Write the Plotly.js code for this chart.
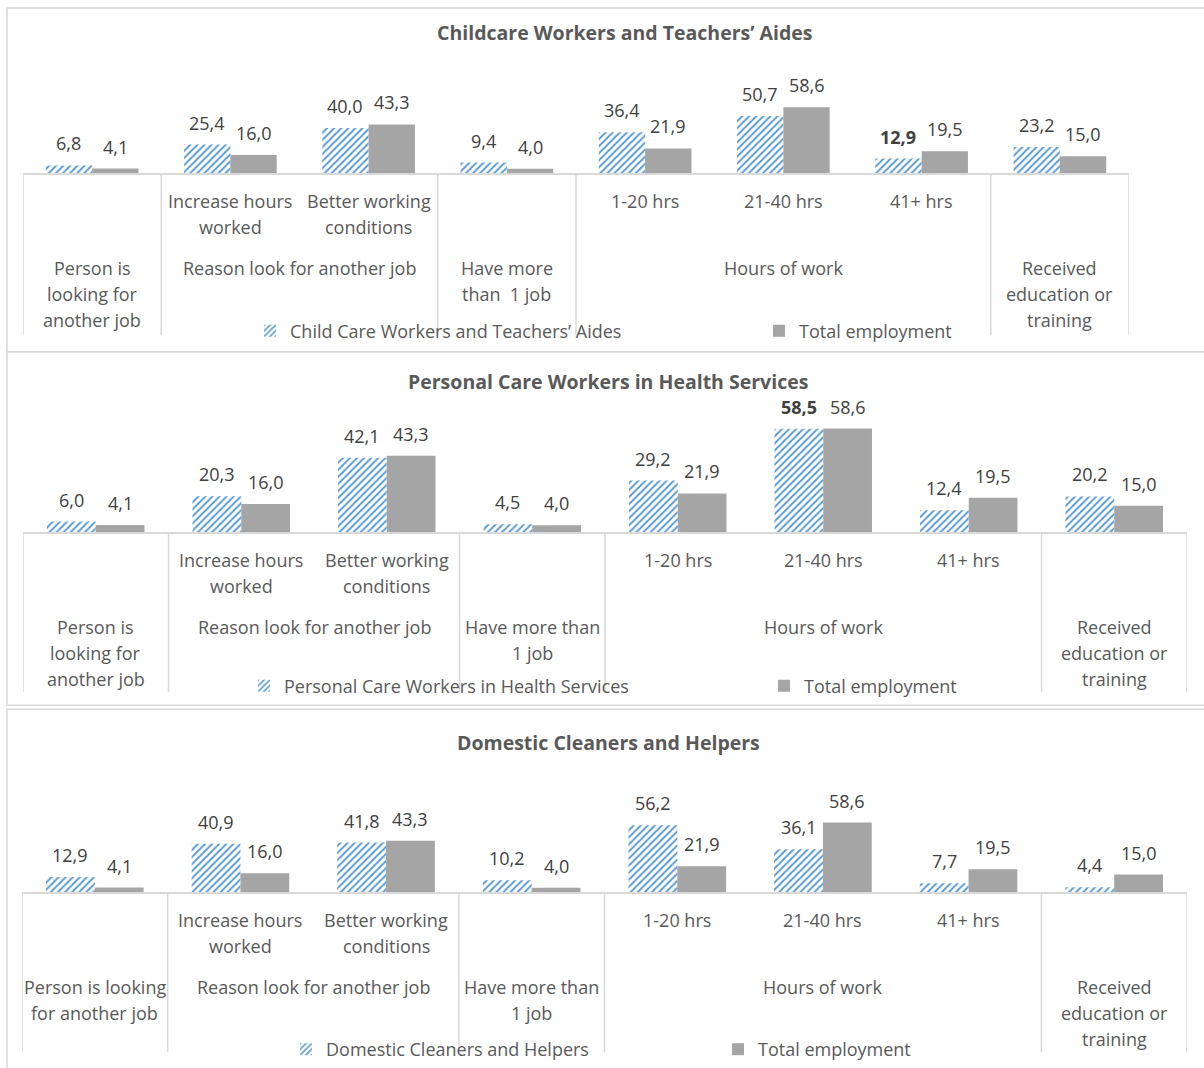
<!DOCTYPE html>
<html>
<head>
<meta charset="utf-8">
<script src="https://cdn.plot.ly/plotly-3.0.1.min.js"></script>
<style>
  html, body { margin: 0; padding: 0; background: #ffffff; }
  #chart { width: 1204px; height: 1068px; }
</style>
</head>
<body>
<div id="chart"></div>
<script>
// ---------------- DATA ----------------
const categories = ["Person is looking for another job", "Increase hours worked", "Better working conditions",
  "Have more than 1 job", "1-20 hrs", "21-40 hrs", "41+ hrs", "Received education or training"];
const subLabels = ["", "Increase hours<br>worked", "Better working<br>conditions", "", "1-20 hrs", "21-40 hrs", "41+ hrs", ""];
const groupSpans = [[0, 0], [1, 2], [3, 3], [4, 6], [7, 7]];
const groupLabels1 = ["Person is<br>looking for<br>another job", "Reason look for another job", "Have more<br>than\u00a0 1 job", "Hours of work", "Received<br>education or<br>training"];
const groupLabels2 = ["Person is<br>looking for<br>another job", "Reason look for another job", "Have more than<br>1 job", "Hours of work", "Received<br>education or<br>training"];
const groupLabels3 = ["Person is looking<br>for another job", "Reason look for another job", "Have more than<br>1 job", "Hours of work", "Received<br>education or<br>training"];
const panelTitles = ["Childcare Workers and Teachers\u2019 Aides", "Personal Care Workers in Health Services", "Domestic Cleaners and Helpers"];
const seriesNames = ["Child Care Workers and Teachers\u2019 Aides", "Personal Care Workers in Health Services", "Domestic Cleaners and Helpers"];
const totalName = "Total employment";
const childcare = [6.8, 25.4, 40.0, 9.4, 36.4, 50.7, 12.9, 23.2];
const personalCare = [6.0, 20.3, 42.1, 4.5, 29.2, 58.5, 12.4, 20.2];
const domestic = [12.9, 40.9, 41.8, 10.2, 56.2, 36.1, 7.7, 4.4];
const totalEmployment = [4.1, 16.0, 43.3, 4.0, 21.9, 58.6, 19.5, 15.0];
const boldLabels = [[6], [5], []]; // indices of occupation labels shown in bold

// ---------------- LAYOUT HELPERS ----------------
const W = 1204, H = 1068;
const px = v => v / W;
const py = v => 1 - v / H;
const BARGAP = 0.33;
const YMAX = 65;
const FONT = "'Open Sans', Lato, sans-serif";
const FS = 18;
const AXCOL = "#595959", LBLCOL = "#404040", LINECOL = "#d9d9d9";
const BLUE = "#5b9bd5", GRAY = "#a5a5a5";

const panels = [
  { occ: childcare, groups: groupLabels1, x0: 23, x1: 1129, base: 173.3, scale: 1.127, titleX: 625, titleY: 33,
    leg1: 250, leg2: 759, legY: 331, divLen: 162 },
  { occ: personalCare, groups: groupLabels2, x0: 23, x1: 1187, base: 532.7, scale: 1.77, titleX: 608, titleY: 382,
    leg1: 244, leg2: 764, legY: 686, divLen: 160 },
  { occ: domestic, groups: groupLabels3, x0: 22, x1: 1187, base: 893.3, scale: 1.195, titleX: 608, titleY: 743,
    leg1: 286, leg2: 718, legY: 1050, divLen: 160 }
];

const traces = [];
const annotations = [];
const shapes = [];
const layout = {
  width: W, height: H,
  margin: { l: 0, r: 0, t: 0, b: 0 },
  paper_bgcolor: "#ffffff", plot_bgcolor: "rgba(0,0,0,0)",
  barmode: "group", bargap: BARGAP, bargroupgap: 0,
  separators: ",.",
  font: { family: FONT, size: FS, color: AXCOL },
  showlegend: true
};

// panel borders
[[7, 8, 1215, 352], [7, 352, 1215, 706], [7, 710, 1215, 1080]].forEach(b => {
  shapes.push({ type: "rect", xref: "paper", yref: "paper", x0: px(b[0]), x1: px(b[2]), y0: py(b[1]), y1: py(b[3]),
    line: { color: LINECOL, width: 1.5 }, fillcolor: "rgba(0,0,0,0)", layer: "below" });
});

panels.forEach((p, k) => {
  const n = k === 0 ? "" : String(k + 1);
  const xa = "x" + n, ya = "y" + n;
  const topPx = p.base - YMAX * p.scale;
  layout["xaxis" + n] = {
    domain: [px(p.x0), px(p.x1)], anchor: ya, type: "category", range: [-0.5, categories.length - 0.5],
    showticklabels: false, ticks: "", showgrid: false, zeroline: false,
    showline: true, linecolor: LINECOL, linewidth: 1.5, fixedrange: true
  };
  layout["yaxis" + n] = {
    domain: [py(p.base), py(topPx)], anchor: xa, range: [0, YMAX], visible: false, fixedrange: true
  };
  const legA = "legend" + (2 * k === 0 ? "" : String(2 * k + 1));
  const legB = "legend" + String(2 * k + 2);
  const legStyle = { orientation: "h", xanchor: "left", yanchor: "middle", bgcolor: "rgba(0,0,0,0)", borderwidth: 0,
    font: { family: FONT, size: FS, color: AXCOL }, itemwidth: 30, tracegroupgap: 0 };
  layout[legA] = Object.assign({}, legStyle, { x: px(p.leg1), y: py(p.legY) });
  layout[legB] = Object.assign({}, legStyle, { x: px(p.leg2), y: py(p.legY) });

  traces.push({
    type: "bar", x: categories, y: p.occ, name: seriesNames[k], xaxis: xa, yaxis: ya, legend: legA,
    marker: { color: BLUE, line: { width: 0 }, pattern: { shape: "/", bgcolor: "#ffffff", fgcolor: BLUE, size: 5, solidity: 0.4 } },
    hoverinfo: "skip"
  });
  traces.push({
    type: "bar", x: categories, y: totalEmployment, name: totalName, xaxis: xa, yaxis: ya, legend: legB,
    marker: { color: GRAY, line: { width: 0 } }, hoverinfo: "skip"
  });

  // data labels
  const off = (1 - BARGAP) / 4;
  const fmt = v => v.toFixed(1).replace(".", ",");
  p.occ.forEach((v, i) => {
    const bold = boldLabels[k].indexOf(i) >= 0;
    annotations.push({ xref: xa, yref: ya, x: i - off, y: v, yshift: 22, yanchor: "middle", showarrow: false, borderpad: 0,
      text: bold ? "<b>" + fmt(v) + "</b>" : fmt(v), font: { family: FONT, size: FS, color: LBLCOL } });
  });
  totalEmployment.forEach((v, i) => {
    annotations.push({ xref: xa, yref: ya, x: i + off, y: v, yshift: 22, yanchor: "middle", showarrow: false, borderpad: 0,
      text: fmt(v), font: { family: FONT, size: FS, color: LBLCOL } });
  });

  // inner category labels (row 1)
  subLabels.forEach((s, i) => {
    if (!s) return;
    s.split("<br>").forEach((line, j) => {
      annotations.push({ xref: xa, yref: "paper", x: i, y: py(p.base + 28 + 26 * j), yanchor: "middle", showarrow: false,
        borderpad: 0, text: line, font: { family: FONT, size: FS, color: AXCOL } });
    });
  });
  // group labels (row 2)
  groupSpans.forEach((sp, g) => {
    p.groups[g].split("<br>").forEach((line, j) => {
      annotations.push({ xref: xa, yref: "paper", x: (sp[0] + sp[1]) / 2, y: py(p.base + 95 + 26 * j), yanchor: "middle",
        showarrow: false, borderpad: 0, text: line, font: { family: FONT, size: FS, color: AXCOL } });
    });
  });
  // group dividers
  const bounds = groupSpans.map(sp => sp[0] - 0.5).concat([groupSpans[groupSpans.length - 1][1] + 0.5]);
  bounds.forEach(b => {
    shapes.push({ type: "line", xref: xa, yref: "paper", x0: b, x1: b, y0: py(p.base), y1: py(p.base + p.divLen),
      line: { color: LINECOL, width: 1.5 }, layer: "below" });
  });
  // panel title
  annotations.push({ xref: "paper", yref: "paper", x: px(p.titleX), y: py(p.titleY), xanchor: "center", yanchor: "middle",
    showarrow: false, borderpad: 0, text: "<b>" + panelTitles[k] + "</b>", font: { family: FONT, size: 19.5, color: AXCOL } });
});

layout.annotations = annotations;
layout.shapes = shapes;

Plotly.newPlot("chart", traces, layout, { displayModeBar: false, staticPlot: true });
</script>
</body>
</html>
